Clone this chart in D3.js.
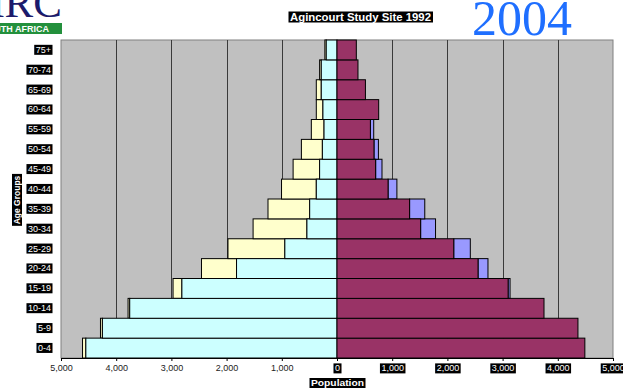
<!DOCTYPE html>
<html>
<head>
<meta charset="utf-8">
<script src="https://cdn.jsdelivr.net/npm/d3@7"></script>
<style>
  html, body { margin: 0; padding: 0; background: #fff; }
  svg { display: block; }
  text { font-family: Arial, "Liberation Sans", sans-serif; }
</style>
</head>
<body>
<svg id="chart" width="623" height="388"></svg>
<script>
// Age bands, youngest first
const ageGroups = ["0-4","5-9","10-14","15-19","20-24","25-29","30-34","35-39",
                   "40-44","45-49","50-54","55-59","60-64","65-69","70-74","75+"];

// Left side of the pyramid (inner + outer segments)
const maleResident = [4550,4250,3755,2810,1820,945,545,495,375,315,265,235,255,285,285,195];
const maleMigrant  = [60,35,30,160,635,1030,975,755,630,480,380,230,120,90,30,25];

// Right side of the pyramid (inner + outer segments)
const femaleResident = [4490,4365,3750,3100,2555,2115,1515,1315,925,700,670,605,755,515,380,350];
const femaleMigrant  = [0,0,0,35,180,300,270,275,160,115,80,60,0,0,0,0];

const xTicks = [-5000,-4000,-3000,-2000,-1000,0,1000,2000,3000,4000,5000];

const svg = d3.select("#chart");

const x = d3.scaleLinear().domain([-5000, 5000]).range([61, 613]);
const y = d3.scaleBand().domain(ageGroups.slice().reverse()).range([40, 358]).padding(0);

// Logo fragment in the corner
svg.append("text")
  .attr("x", 62).attr("y", 17)
  .attr("text-anchor", "end")
  .style("font-family", "'Liberation Serif', 'Times New Roman', serif")
  .style("font-size", "43px")
  .attr("fill", "#1c1a6b")
  .text("MRC");
svg.append("rect").attr("x", 0).attr("y", 23).attr("width", 62).attr("height", 11).attr("fill", "#23903c");
svg.append("text")
  .attr("x", 49).attr("y", 32)
  .attr("text-anchor", "end")
  .style("font-size", "9px").style("font-weight", "bold")
  .attr("fill", "#fff")
  .text("SOUTH AFRICA");

// Year stamp
svg.append("text")
  .attr("x", 472).attr("y", 35)
  .style("font-family", "'Liberation Serif', 'Times New Roman', serif")
  .style("font-size", "50px")
  .attr("fill", "#1f6fff")
  .text("2004");

// Helper: white text on a black box
function boxed(sel, pad) {
  sel.each(function () {
    const b = this.getBBox();
    d3.select(this.parentNode).insert("rect", () => this)
      .attr("x", b.x - pad).attr("y", b.y)
      .attr("width", b.width + pad * 2).attr("height", b.height)
      .attr("fill", "#000");
  });
}

// Title
const title = svg.append("g");
title.append("text")
  .attr("x", 290).attr("y", 20.5)
  .attr("textLength", 141).attr("lengthAdjust", "spacingAndGlyphs")
  .style("font-size", "10px").style("font-weight", "bold")
  .attr("fill", "#fff")
  .text("Agincourt Study Site 1992");
boxed(title.selectAll("text"), 1.5);

// Plot area
svg.append("rect")
  .attr("x", x(-5000)).attr("y", 40)
  .attr("width", x(5000) - x(-5000)).attr("height", 318)
  .attr("fill", "#c0c0c0").attr("stroke", "#808080").attr("stroke-width", 1);

// Vertical gridlines
svg.append("g").selectAll("line")
  .data(xTicks.filter(d => Math.abs(d) < 5000 && d !== 0))
  .join("line")
  .attr("x1", d => Math.round(x(d)) + 0.5).attr("x2", d => Math.round(x(d)) + 0.5)
  .attr("y1", 40).attr("y2", 358)
  .attr("stroke", "#3a3a3a").attr("stroke-width", 1);

// Bars
const rows = ageGroups.map((g, i) => ({
  g,
  mr: maleResident[i], mm: maleMigrant[i],
  fr: femaleResident[i], fm: femaleMigrant[i]
}));

const bars = svg.append("g").attr("stroke", "#000").attr("stroke-width", 1);

bars.selectAll(".mOuter").data(rows.filter(d => d.mm > 0)).join("rect")
  .attr("x", d => x(-(d.mr + d.mm))).attr("y", d => y(d.g))
  .attr("width", d => x(-d.mr) - x(-(d.mr + d.mm))).attr("height", y.bandwidth())
  .attr("fill", "#ffffcc");
bars.selectAll(".mInner").data(rows).join("rect")
  .attr("x", d => x(-d.mr)).attr("y", d => y(d.g))
  .attr("width", d => x(0) - x(-d.mr)).attr("height", y.bandwidth())
  .attr("fill", "#ccffff");
bars.selectAll(".fOuter").data(rows.filter(d => d.fm > 0)).join("rect")
  .attr("x", d => x(d.fr)).attr("y", d => y(d.g))
  .attr("width", d => x(d.fr + d.fm) - x(d.fr)).attr("height", y.bandwidth())
  .attr("fill", "#9999ff");
bars.selectAll(".fInner").data(rows).join("rect")
  .attr("x", x(0)).attr("y", d => y(d.g))
  .attr("width", d => x(d.fr) - x(0)).attr("height", y.bandwidth())
  .attr("fill", "#993366");

// X axis
const xAxis = svg.append("g")
  .attr("transform", "translate(0,358)")
  .call(d3.axisBottom(x).tickValues(xTicks).tickSize(3).tickPadding(4)
    .tickFormat(d => d3.format(",")(Math.abs(d))));
xAxis.select(".domain").attr("stroke", "#000");
xAxis.selectAll(".tick line").attr("stroke", "#000");
xAxis.selectAll(".tick text")
  .style("font-size", "9px").style("font-family", "Arial, 'Liberation Sans', sans-serif")
  .attr("fill", d => d >= 0 ? "#fff" : "#222");
boxed(xAxis.selectAll(".tick text").filter(d => d >= 0), 1.5);

// Y axis
const yAxis = svg.append("g")
  .attr("transform", "translate(61,0)")
  .call(d3.axisLeft(y).tickSize(0).tickPadding(10));
yAxis.select(".domain").remove();
yAxis.selectAll(".tick text")
  .style("font-size", "9px").style("font-family", "Arial, 'Liberation Sans', sans-serif")
  .attr("fill", "#fff");
boxed(yAxis.selectAll(".tick text"), 1.5);

// Axis titles
const xt = svg.append("g");
xt.append("text")
  .attr("x", 311).attr("y", 386)
  .attr("textLength", 53).attr("lengthAdjust", "spacingAndGlyphs")
  .style("font-size", "9px").style("font-weight", "bold")
  .attr("fill", "#fff")
  .text("Population");
boxed(xt.selectAll("text"), 1.5);

const yt = svg.append("g").attr("transform", "translate(20,200) rotate(-90)");
yt.append("text")
  .attr("x", 0).attr("y", 0)
  .attr("text-anchor", "middle")
  .style("font-size", "8.5px").style("font-weight", "bold")
  .attr("fill", "#fff")
  .text("Age Groups");
boxed(yt.selectAll("text"), 1.5);
</script>
</body>
</html>
